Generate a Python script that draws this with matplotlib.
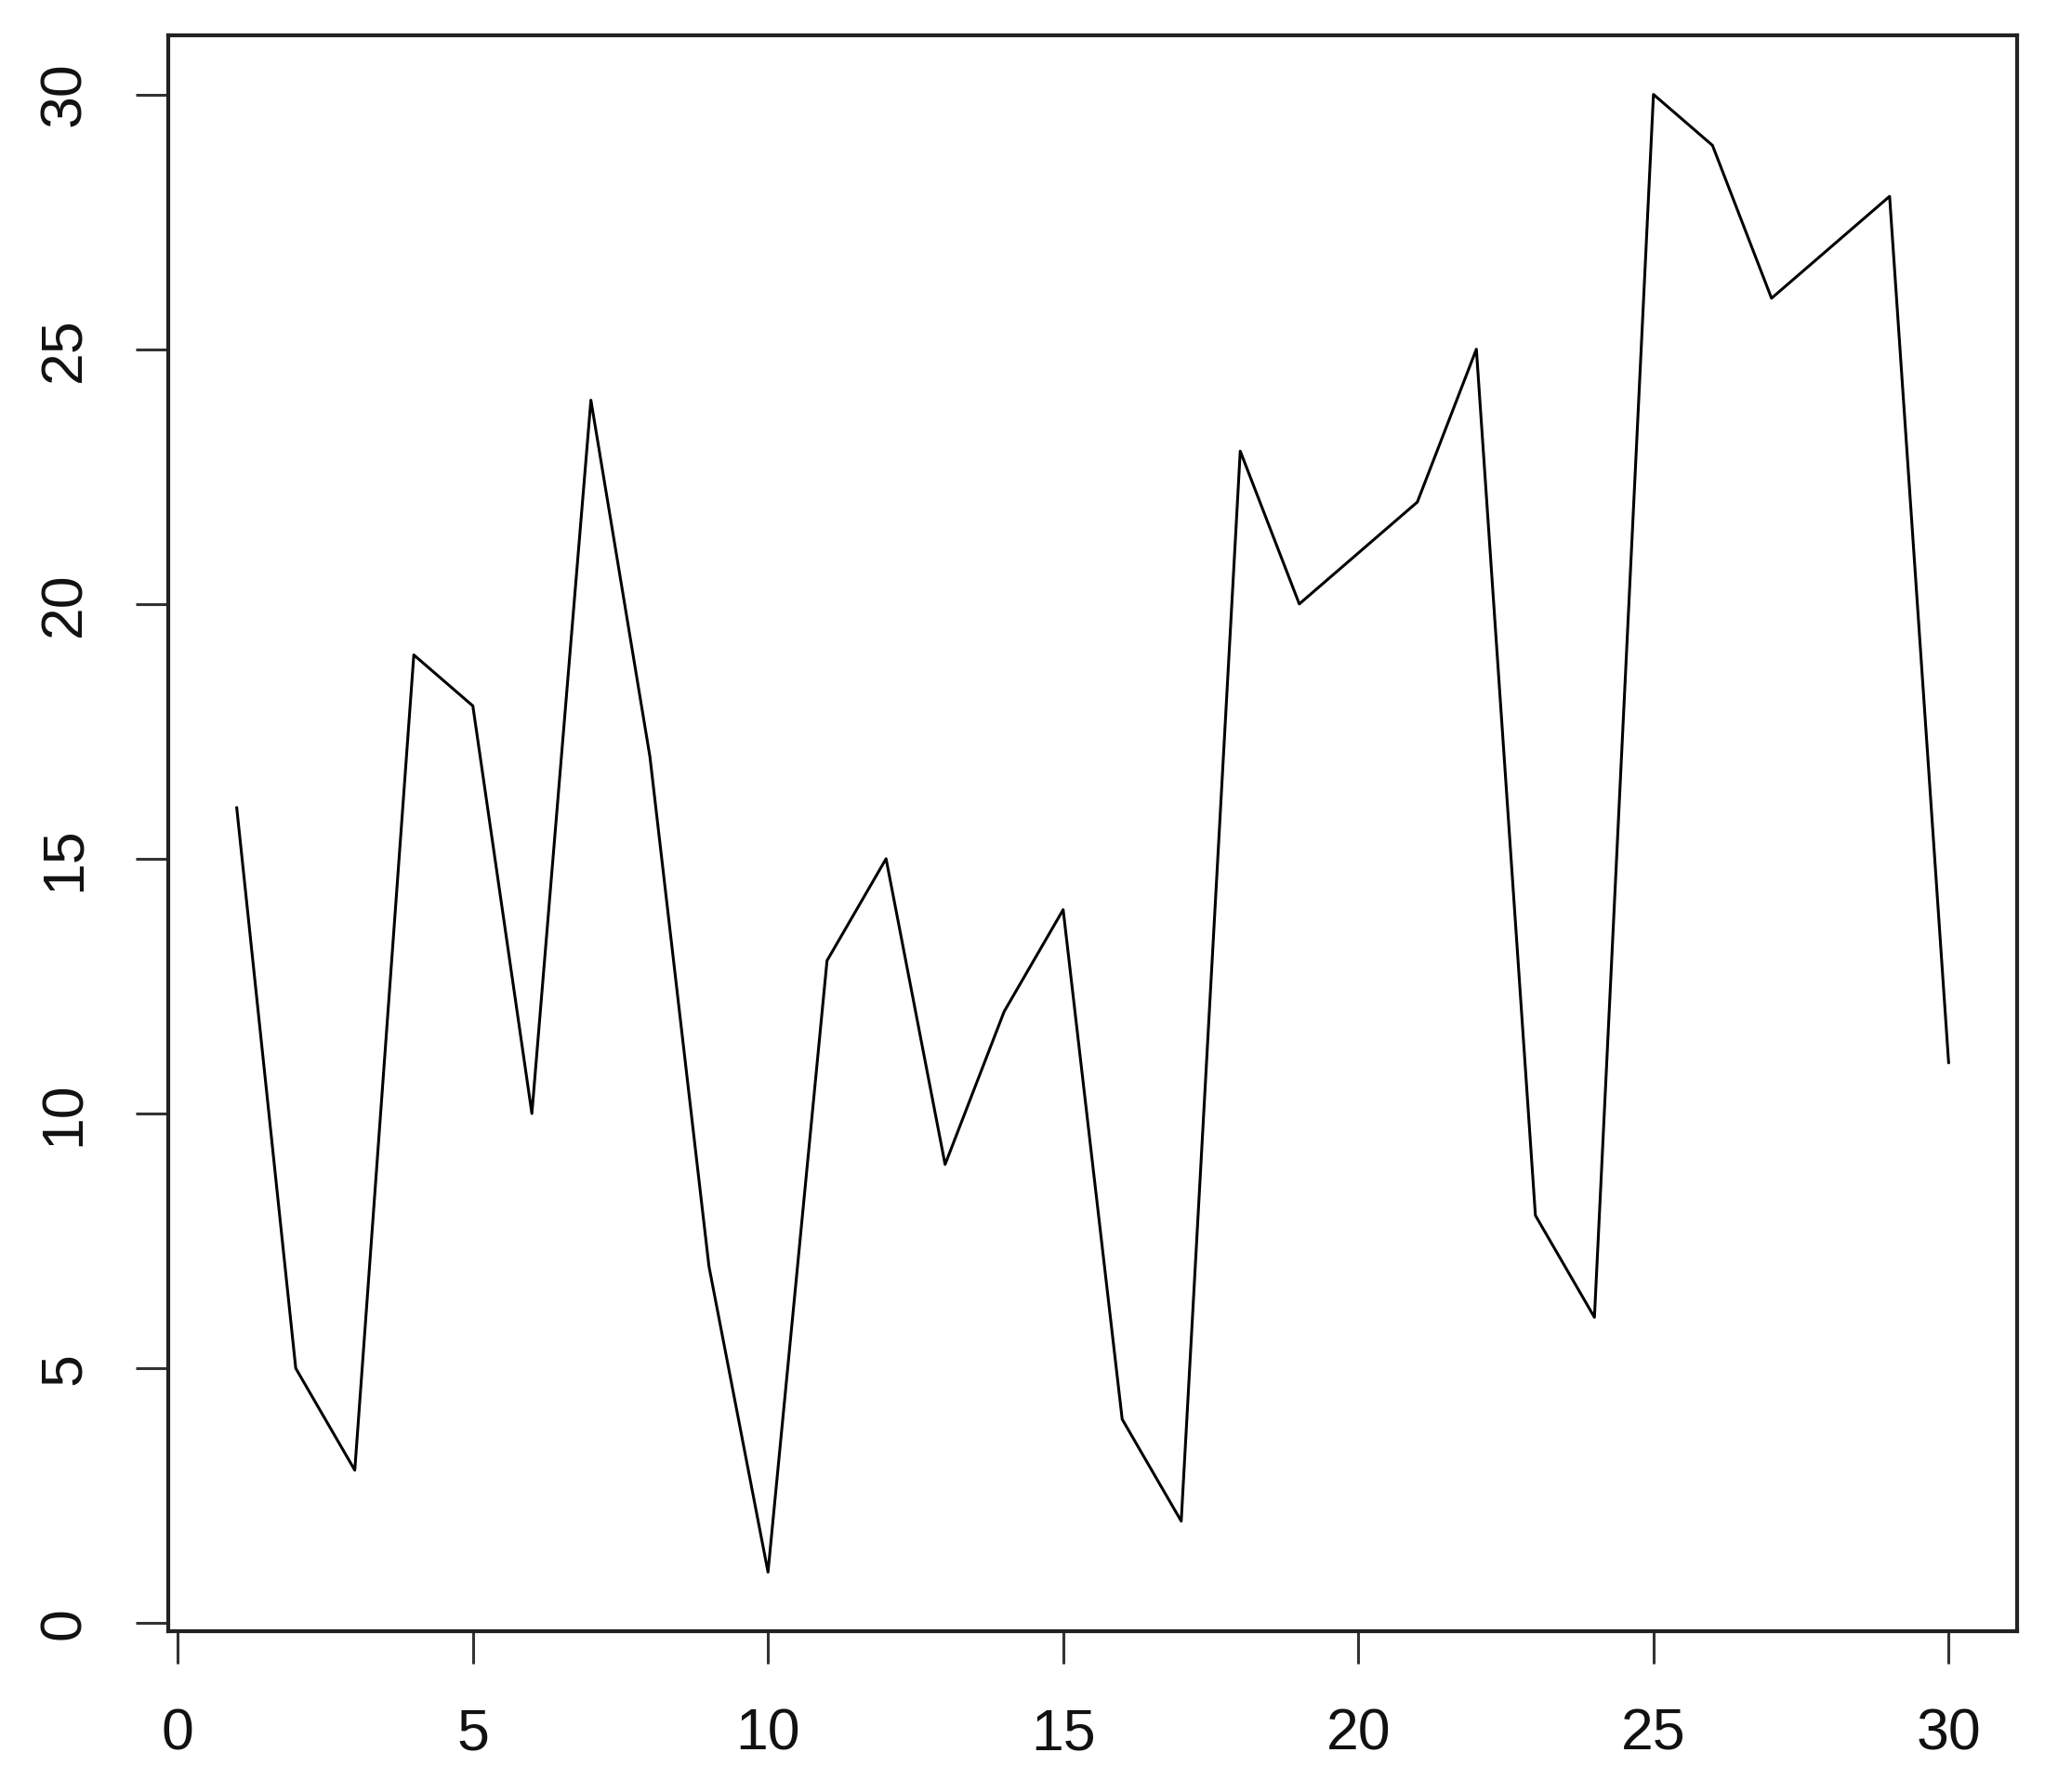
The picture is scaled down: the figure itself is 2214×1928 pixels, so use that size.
import numpy as np
import matplotlib
matplotlib.use("Agg")
import matplotlib.pyplot as plt

# data (index 1..30)
idx = list(range(1, 31))
values = [16, 5, 3, 19, 18, 10, 24, 17, 7, 1,
          13, 15, 9, 12, 14, 4, 2, 23, 20, 21,
          22, 25, 8, 6, 30, 29, 26, 27, 28, 11]
x_ticks = [0, 5, 10, 15, 20, 25, 30]
y_ticks = [0, 5, 10, 15, 20, 25, 30]

plt.rcParams["font.family"] = ["Liberation Sans", "DejaVu Sans"]

fig = plt.figure(figsize=(22.14, 19.28), dpi=100)
ax = fig.add_axes([181 / 2214, 1 - 1755 / 1928, (2170 - 181) / 2214, (1755 - 38) / 1928])

ax.plot(idx, values, color="black", linewidth=2.2)

# R style 4% padding
pad = (max(idx) - min(idx)) * 0.04
ax.set_xlim(min(idx) - pad, max(idx) + pad)
ypad = (max(values) - min(values)) * 0.04
ax.set_ylim(min(values) - ypad, max(values) + ypad)

ax.set_xticks(x_ticks)
ax.set_yticks(y_ticks)
ax.set_xticklabels([str(t) for t in x_ticks])
ax.set_yticklabels([str(t) for t in y_ticks], rotation=90, va="center")

for s in ax.spines.values():
    s.set_linewidth(3)
    s.set_color("#222222")

ax.tick_params(axis="both", direction="out", length=25, width=2.2, color="#333333",
               labelsize=45, labelcolor="#111111")
ax.tick_params(axis="x", pad=34)
ax.tick_params(axis="y", pad=34)

fig.savefig("out.png", dpi=100, facecolor="white")
